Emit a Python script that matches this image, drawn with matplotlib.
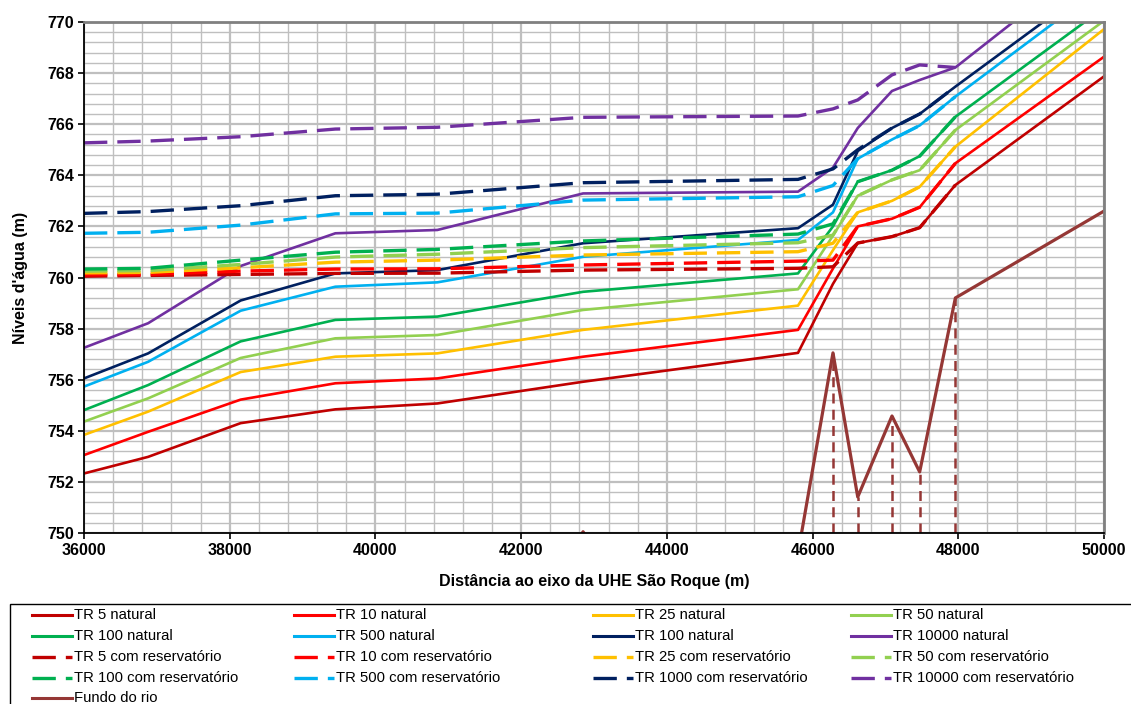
import matplotlib
matplotlib.use('Agg')
import matplotlib.pyplot as plt
from matplotlib.lines import Line2D
from matplotlib.patches import Rectangle
from matplotlib.ticker import MultipleLocator

plt.rcParams['font.family'] = ['Liberation Sans', 'DejaVu Sans']

# ---------------- data ----------------
stations = [36000, 36880, 38150, 39450, 40850, 42850, 45800,
            46280, 46620, 47090, 47470, 47960, 50000]

nat_tr5 = [752.33, 752.98, 754.30, 754.84, 755.07, 755.92, 757.05,
           759.75, 761.35, 761.60, 761.95, 763.62, 767.87]
nat_tr10 = [753.05, 753.96, 755.22, 755.86, 756.05, 756.90, 757.95,
            760.35, 762.00, 762.30, 762.75, 764.47, 768.64]
nat_tr25 = [753.84, 754.75, 756.30, 756.90, 757.03, 757.95, 758.90,
            761.07, 762.55, 763.00, 763.55, 765.12, 769.72]
nat_tr50 = [754.36, 755.27, 756.85, 757.62, 757.75, 758.73, 759.54,
            761.64, 763.20, 763.82, 764.20, 765.77, 770.05]
nat_tr100 = [754.81, 755.79, 757.50, 758.34, 758.47, 759.44, 760.16,
             762.00, 763.75, 764.20, 764.75, 766.29, 770.55]
nat_tr500 = [755.73, 756.70, 758.70, 759.64, 759.81, 760.81, 761.47,
             762.55, 764.65, 765.40, 765.95, 767.08, 771.44]
nat_tr1000 = [756.05, 757.03, 759.10, 760.16, 760.29, 761.34, 761.93,
              762.85, 764.95, 765.85, 766.40, 767.47, 771.75]
nat_tr10000 = [757.25, 758.21, 760.45, 761.73, 761.86, 763.29, 763.36,
               764.30, 765.85, 767.30, 767.73, 768.22, 772.79]

res_stations = stations[:12]
res_tr5 = [760.05, 760.08, 760.12, 760.16, 760.17, 760.29, 760.36,
           760.42, 761.35, 761.60, 761.95, 763.62]
res_tr10 = [760.10, 760.12, 760.25, 760.33, 760.34, 760.49, 760.64,
            760.68, 762.00, 762.30, 762.75, 764.47]
res_tr25 = [760.18, 760.20, 760.38, 760.60, 760.68, 760.88, 761.01,
            761.34, 762.55, 763.00, 763.55, 765.12]
res_tr50 = [760.25, 760.27, 760.51, 760.80, 760.91, 761.17, 761.36,
            761.66, 763.20, 763.82, 764.20, 765.77]
res_tr100 = [760.33, 760.36, 760.68, 760.99, 761.10, 761.43, 761.70,
             762.10, 763.75, 764.20, 764.75, 766.29]
res_tr500 = [761.73, 761.77, 762.05, 762.49, 762.52, 763.03, 763.16,
             763.60, 764.65, 765.40, 765.95, 767.08]
res_tr1000 = [762.51, 762.58, 762.81, 763.20, 763.26, 763.71, 763.84,
              764.25, 765.00, 765.85, 766.40, 767.47]
res_tr10000 = [765.27, 765.34, 765.51, 765.81, 765.88, 766.27, 766.32,
               766.60, 766.95, 767.93, 768.32, 768.22]

fundo_x = [36000, 38150, 39450, 40850, 42400, 42850, 43300, 45000, 45800,
           46280, 46620, 47090, 47470, 47960, 50000]
fundo_y = [745.0, 746.0, 746.5, 747.0, 748.0, 750.05, 748.0, 747.0, 749.2,
           757.05, 751.41, 754.58, 752.39, 759.20, 762.60]
drop_x = [46280, 46620, 47090, 47470, 47960]

nat_labels = ["TR 5 natural", "TR 10 natural", "TR 25 natural", "TR 50 natural",
              "TR 100 natural", "TR 500 natural", "TR 100 natural", "TR 10000 natural"]
res_labels = ["TR 5 com reservatório", "TR 10 com reservatório",
              "TR 25 com reservatório", "TR 50 com reservatório",
              "TR 100 com reservatório", "TR 500 com reservatório",
              "TR 1000 com reservatório", "TR 10000 com reservatório"]
fundo_label = "Fundo do rio"

colors = ["#C00000", "#FF0000", "#FFC000", "#92D050",
          "#00B050", "#00B0F0", "#002060", "#7030A0"]
fundo_color = "#953735"

nat_series = [nat_tr5, nat_tr10, nat_tr25, nat_tr50,
              nat_tr100, nat_tr500, nat_tr1000, nat_tr10000]
res_series = [res_tr5, res_tr10, res_tr25, res_tr50,
              res_tr100, res_tr500, res_tr1000, res_tr10000]

# ---------------- figure ----------------
W, H = 1131, 704
fig = plt.figure(figsize=(W / 100, H / 100), dpi=100)
ax = fig.add_axes([84 / W, 1 - 533 / H, (1104 - 84) / W, (533 - 22) / H])

ax.set_xlim(36000, 50000)
ax.set_ylim(750, 770)
ax.xaxis.set_major_locator(MultipleLocator(2000))
ax.xaxis.set_minor_locator(MultipleLocator(400))
ax.yaxis.set_major_locator(MultipleLocator(2))
ax.yaxis.set_minor_locator(MultipleLocator(0.4))
ax.grid(which='major', color='#BFBFBF', lw=1.6, zorder=0)
ax.grid(which='minor', color='#BFBFBF', lw=1.0, zorder=0)
ax.set_axisbelow(True)

LW_SOLID = 1.9
LW_DASH = 2.4
DASH = (7, 3)

for ys, c in zip(nat_series, colors):
    ax.plot(stations, ys, color=c, lw=LW_SOLID, solid_joinstyle='round')
for ys, c in zip(res_series, colors):
    ax.plot(res_stations, ys, color=c, lw=LW_DASH, linestyle=(0, DASH))
ax.plot(fundo_x, fundo_y, color=fundo_color, lw=2.3)
drop_top = [fundo_y[fundo_x.index(x)] for x in drop_x]
ax.vlines(drop_x, 750, drop_top, colors=fundo_color, lw=1.8,
          linestyles=(0, (4, 2.5)))

for s in ['left', 'bottom']:
    ax.spines[s].set_color('black')
    ax.spines[s].set_linewidth(1.3)
for s in ['top', 'right']:
    ax.spines[s].set_color('#808080')
    ax.spines[s].set_linewidth(2.0)

ax.tick_params(axis='both', which='major', direction='out', length=4,
               width=1.2, labelsize=11.5, pad=3, colors='black')
ax.tick_params(axis='both', which='minor', length=0)
ax.set_xticks(range(36000, 50001, 2000))
ax.set_xticklabels([str(v) for v in range(36000, 50001, 2000)], fontweight='bold')
ax.set_yticks(range(750, 771, 2))
ax.set_yticklabels([str(v) for v in range(750, 771, 2)], fontweight='bold')

ax.set_xlabel("Distância ao eixo da UHE São Roque (m)", fontsize=11.5,
              fontweight='bold', labelpad=12)
ax.set_ylabel("Níveis d'água (m)", fontsize=11.5, fontweight='bold', labelpad=14)

# ---------------- legend (Excel-like, row-major) ----------------
def fx(px):
    return px / W


def fy(py):
    return 1 - py / H


fig.add_artist(Rectangle((fx(10), fy(740)), fx(1140) - fx(10), fy(604) - fy(740),
                         transform=fig.transFigure, fill=False,
                         edgecolor='black', lw=1.0))

entries = []
for lab, c in zip(nat_labels, colors):
    entries.append((lab, c, 'solid'))
for lab, c in zip(res_labels, colors):
    entries.append((lab, c, 'dash'))
entries.append((fundo_label, fundo_color, 'solid'))

col_x = [32, 294, 593, 851]
row_y = [615, 636, 657, 678, 698]
for i, (lab, c, st) in enumerate(entries):
    r, cidx = divmod(i, 4)
    x0 = col_x[cidx]
    y = row_y[r]
    if st == 'solid':
        ln = Line2D([fx(x0), fx(x0 + 40)], [fy(y), fy(y)], transform=fig.transFigure,
                    color=c, lw=2.2)
    else:
        ln = Line2D([fx(x0), fx(x0 + 40)], [fy(y), fy(y)], transform=fig.transFigure,
                    color=c, lw=LW_DASH, linestyle=(0, DASH))
    fig.add_artist(ln)
    fig.text(fx(x0 + 42), fy(y), lab, fontsize=10.7, va='center', ha='left')

fig.savefig("out.png", dpi=100)
